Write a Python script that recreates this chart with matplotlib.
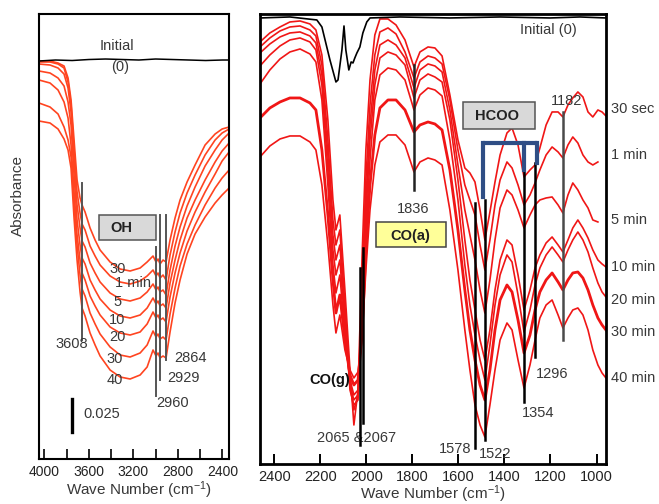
import numpy as np
import matplotlib
matplotlib.use('Agg')
import matplotlib.pyplot as plt
from matplotlib.patches import Rectangle

plt.rcParams['font.family'] = ['Liberation Sans', 'DejaVu Sans']
plt.rcParams['mathtext.fontset'] = 'custom'
plt.rcParams['mathtext.rm'] = 'Liberation Sans'
plt.rcParams['mathtext.it'] = 'Liberation Sans:italic'
plt.rcParams['mathtext.default'] = 'regular'

# ---------------- data: left panel (OH / CH region) ----------------
# signal depth below the frame top (a.u.); plotted as negative absorbance
left_wn = [4048, 3949, 3877, 3823, 3787, 3760, 3733, 3706, 3679, 3661, 3634, 3589,
           3544, 3499, 3409, 3319, 3229, 3139, 3076, 3023, 2996, 2978, 2960, 2933,
           2906, 2870, 2825, 2780, 2717, 2645, 2555, 2465, 2402, 2339]
left_times = ['30', '1 min', '5', '10', '20', '30', '40']
left_30s = [61, 61, 63, 66, 78, 100, 140, 180, 198, 205, 212, 228, 240, 250, 262, 269, 271, 268,
            262, 256, 262, 259, 264, 260, 262, 240, 218, 200, 182, 165, 145, 134, 129, 127]
left_1m = [62, 62, 64, 68, 82, 105, 150, 192, 213, 224, 230, 246, 256, 265, 276, 282, 284, 281,
           276, 270, 276, 273, 278, 275, 280, 255, 232, 213, 193, 175, 155, 140, 133, 129]
left_5m = [64, 65, 68, 74, 88, 112, 160, 205, 228, 241, 247, 263, 273, 282, 293, 299, 301, 298,
           292, 284, 290, 287, 292, 290, 295, 270, 246, 227, 206, 187, 166, 150, 140, 133]
left_10m = [71, 73, 78, 86, 102, 125, 175, 220, 245, 258, 264, 280, 290, 299, 310, 316, 318, 315,
            308, 298, 304, 301, 306, 304, 308, 283, 260, 240, 218, 200, 180, 162, 151, 143]
left_20m = [80, 83, 90, 102, 118, 145, 192, 235, 260, 273, 280, 296, 306, 315, 327, 333, 335, 332,
            324, 312, 318, 315, 320, 318, 322, 297, 273, 253, 231, 212, 192, 174, 161, 152]
left_30m = [103, 107, 114, 127, 140, 157, 205, 245, 275, 289, 296, 313, 324, 334, 347, 355, 357, 353,
            345, 331, 337, 334, 339, 337, 340, 314, 288, 266, 244, 225, 205, 188, 178, 170]
left_40m = [121, 123, 129, 139, 150, 168, 218, 260, 292, 308, 316, 333, 345, 356, 370, 377, 379, 375,
            367, 350, 356, 353, 358, 356, 358, 332, 303, 280, 254, 234, 217, 203, 195, 188]
left_curves = [left_30s, left_1m, left_5m, left_10m, left_20m, left_30m, left_40m]
left_label_wn = [3337, 3203, 3346, 3346, 3346, 3364, 3364]
left_label_depth = [269, 283, 302, 320, 337, 359, 380]

left_init_wn = [4048, 3900, 3750, 3600, 3450, 3300, 3150, 3000, 2850, 2700, 2550, 2400, 2339]
left_init = [61, 60, 60.5, 59.5, 59, 59.5, 60, 59, 59.5, 60, 60.5, 60, 60]

# peak markers (axis position, top, bottom, label, label position)
left_peaks_wn = [3664, 2999, 2960, 2902]
left_peaks_top = [183, 247, 215, 215]
left_peaks_bot = [340, 396, 380, 360]
left_peak_labels = ['3608', '2960', '2929', '2864']
left_peak_label_wn = [3751, 2843, 2753, 2690]
left_peak_label_depth = [344, 403, 378, 358]

# ---------------- data: right panel (CO / formate region) ----------------
right_wn = [2462, 2419, 2375, 2332, 2288, 2245, 2219, 2193, 2167, 2145, 2132, 2115, 2093, 2071,
            2054, 2036, 2019, 2002, 1984, 1963, 1941, 1906, 1871, 1832, 1793, 1767, 1732, 1702,
            1671, 1637, 1602, 1572, 1550, 1528, 1506, 1485, 1463, 1441, 1419, 1389, 1367, 1341,
            1315, 1289, 1267, 1246, 1219, 1193, 1167, 1146, 1124, 1103, 1081, 1059, 1037, 1016,
            994, 976, 959]
right_times = ['30 sec', '1 min', '5 min', '10 min', '20 min', '30 min', '40 min']
nan = float('nan')
right_30s = [42, 33, 27, 22, 21, 24,
             30, 55, 120, 200, 230, 215, 290, 370, 425, 390, 260, 150, 80, 35, 19,
             19, 25, 40, 67, 52, 47, 48, 56,
             95, 140, 168, 173, 182, 210, 240, 212, 182, 155,
             133, 128, 145, 177, 170, 165, 148, 125, 112, 112,
             117, 105, 98, 92, 97, 112, 117, 110, 112, 116]
right_1m = [47, 38, 31, 27, 26, 30,
            36, 65, 140, 220, 245, 230, 305, 385, 410, 395, 290, 180, 105, 55, 32,
            28, 34, 52, 78, 62, 56, 58, 64,
            100, 150, 185, 200, 215, 245, 270, 240, 205, 180,
            162, 168, 185, 205, 195, 183, 170, 155, 147, 152,
            158, 145, 137, 143, 155, 162, 165, 162, nan, nan]
right_5m = [53, 44, 37, 33, 32, 36,
            43, 75, 155, 235, 260, 245, 315, 390, 405, 400, 310, 200, 125, 70, 45,
            40, 45, 58, 88, 70, 64, 66, 72,
            110, 165, 210, 235, 260, 290, 313, 280, 240, 208,
            190, 195, 210, 228, 215, 205, 200, 198, 197, 205,
            213, 195, 183, 190, 200, 208, 220, 222, nan, nan]
right_10m = [66, 55, 46, 40, 38, 42,
             50, 85, 170, 250, 275, 260, 325, 385, 400, 395, 320, 215, 140, 85, 58,
             52, 55, 65, 98, 80, 74, 77, 82,
             120, 180, 240, 280, 310, 340, 360, 330, 290, 260,
             240, 245, 275, 310, 290, 268, 255, 243, 237, 245,
             252, 240, 228, 220, 228, 238, 250, 260, 264, 267]
right_20m = [84, 70, 59, 52, 49, 54,
             62, 100, 185, 265, 293, 275, 335, 380, 395, 390, 330, 230, 160, 100, 75,
             68, 70, 80, 110, 95, 88, 90, 96,
             140, 200, 265, 305, 335, 360, 380, 345, 305, 275,
             255, 262, 295, 332, 310, 285, 268, 255, 247, 255,
             262, 250, 240, 232, 240, 252, 268, 283, 292, 297]
right_30m = [118, 108, 102, 98, 98, 103,
             110, 150, 215, 280, 313, 295, 340, 375, 385, 380, 335, 250, 185, 135, 108,
             100, 100, 110, 132, 125, 122, 124, 130,
             170, 230, 290, 330, 360, 385, 400, 370, 330, 300,
             285, 292, 320, 353, 335, 310, 292, 280, 273, 282,
             290, 280, 273, 272, 278, 290, 305, 318, 325, 330]
right_40m = [157, 146, 139, 136, 136, 142,
             150, 185, 245, 305, 333, 315, 350, 370, 378, 372, 340, 270, 210, 165, 142,
             135, 135, 145, 172, 162, 158, 160, 165,
             210, 270, 330, 370, 405, 425, 437, 405, 370, 340,
             323, 330, 360, 388, 365, 340, 318, 305, 300, 315,
             328, 318, 310, 308, 315, 330, 350, 365, 373, 378]
right_curves = [right_30s, right_1m, right_5m, right_10m, right_20m, right_30m, right_40m]
right_widths = [1.2, 1.2, 1.2, 1.2, 1.2, 2.0, 1.2]
right_label_depth = [109, 155, 220, 267, 300, 332, 378]

right_init_wn = [2462, 2332, 2215, 2193, 2158, 2132, 2123, 2106, 2097, 2089, 2076, 2066, 2058,
                 2050, 2041, 2028, 2015, 1998, 1984, 1854, 1637, 1419, 1202, 1072, 959]
right_init = [18, 17, 20, 27, 60, 82, 80, 50, 26, 50, 70, 62, 63, 58, 53, 47, 33, 22, 18,
              17, 18, 17, 18, 17, 18]

right_peaks_wn = [1792, 1529, 1483, 1314, 1266, 1147, 2029, 2015]
right_peaks_top = [65, 203, 200, 170, 163, 112, 268, 248]
right_peaks_bot = [190, 448, 440, 402, 357, 340, 445, 423]
right_peak_colors = ['#222222', 'black', 'black', 'black', 'black', '#4a4a4a', 'black', 'black']
right_peak_labels = ['1836', '1578', '1522', '1354', '1296', '1182', '2065 &2067']
right_peak_label_wn = [1797, 1615, 1441, 1254, 1194, 1128, 2041]
right_peak_label_depth = [209, 449, 454, 413, 374, 101, 438]

# formate bracket: legs at 1522, 1354, 1296 (axis positions)
bracket_wn = [1492, 1315, 1259]
bracket_top = 143
bracket_leg_bot = [197, 170, 163]

# ---------------- styling ----------------
LEFT_RED = '#ff4420'
RIGHT_RED = '#f01616'
TXT = '#383838'

fig = plt.figure(figsize=(6.59, 5.04), dpi=100)
axL = fig.add_axes([0.0592, 0.0893, 0.2888, 0.8829])
axR = fig.add_axes([0.3945, 0.0794, 0.5250, 0.8929])

# ---- left panel ----
axL.plot(left_init_wn, -np.array(left_init), color='black', lw=1.1, zorder=3)
for vals in left_curves:
    axL.plot(left_wn, -np.array(vals), color=LEFT_RED, lw=1.2, zorder=2)
for wn, t, b in zip(left_peaks_wn, left_peaks_top, left_peaks_bot):
    axL.plot([wn, wn], [-t, -b], color='#555555', lw=1.4, zorder=4)
for lab, wn, d in zip(left_peak_labels, left_peak_label_wn, left_peak_label_depth):
    axL.text(wn, -d, lab, ha='center', va='center', fontsize=10.5, color=TXT, zorder=5)
for lab, wn, d in zip(left_times, left_label_wn, left_label_depth):
    axL.text(wn, -d, lab, ha='center', va='center', fontsize=10.5, color=TXT, zorder=5)

axL.text(3346, -46, 'Initial', ha='center', va='center', fontsize=10.5, color=TXT)
axL.text(3320, -67, '(0)', ha='center', va='center', fontsize=10.5, color=TXT)
axL.add_patch(Rectangle((3508, -240), 2996 - 3508, 25, facecolor='#d9d9d9',
                        edgecolor='#555555', lw=1.1, zorder=4))
axL.text(3310, -228, 'OH', ha='center', va='center', fontsize=10.5, fontweight='bold',
         color='#222222', zorder=5)
# scale bar 0.025
axL.plot([3748, 3748], [-399, -432], color='black', lw=2.4)
axL.text(3652, -414, '0.025', ha='left', va='center', fontsize=10.5, color=TXT)

axL.set_xlim(4048, 2337)
axL.set_ylim(-459, -14)
axL.set_xticks([4000, 3600, 3200, 2800, 2400])
axL.set_xticks([3800, 3400, 3000, 2600], minor=True)
axL.tick_params(axis='x', which='both', direction='in', length=7, width=1.2,
                pad=4.5, labelsize=10, labelcolor='#222222')
axL.set_yticks([])
for s in axL.spines.values():
    s.set_linewidth(1.5)
    s.set_color('black')

# ---- right panel ----
axR.plot(right_init_wn, -np.array(right_init), color='black', lw=1.2, zorder=3)
for vals, lw in zip(right_curves, right_widths):
    axR.plot(right_wn, -np.array(vals), color=RIGHT_RED, lw=lw, zorder=2)
for wn, t, b, c in zip(right_peaks_wn, right_peaks_top, right_peaks_bot, right_peak_colors):
    axR.plot([wn, wn], [-t, -b], color=c, lw=1.8, zorder=4)
for lab, wn, d in zip(right_peak_labels, right_peak_label_wn, right_peak_label_depth):
    axR.text(wn, -d, lab, ha='center', va='center', fontsize=10.5, color=TXT, zorder=3)
# formate bracket
axR.plot([bracket_wn[0], bracket_wn[-1]], [-bracket_top, -bracket_top], color='#2f4e85',
         lw=3, solid_capstyle='butt', zorder=5)
for wn, b in zip(bracket_wn, bracket_leg_bot):
    axR.plot([wn, wn], [-bracket_top, -b], color='#2f4e85', lw=3, zorder=5)

axR.add_patch(Rectangle((1580, -129), 1267 - 1580, 27, facecolor='#d9d9d9',
                        edgecolor='#555555', lw=1.1, zorder=4))
axR.text(1433, -116, 'HCOO', ha='center', va='center', fontsize=10.5, fontweight='bold',
         color='#222222', zorder=5)
axR.add_patch(Rectangle((1958, -247), 1654 - 1958, 25, facecolor='#ffff99',
                        edgecolor='#444444', lw=1.1, zorder=4))
axR.text(1811, -236, 'CO(a)', ha='center', va='center', fontsize=10.5, fontweight='bold',
         color='#222222', zorder=5)
axR.text(2158, -380, 'CO(g)', ha='center', va='center', fontsize=10.5, fontweight='bold',
         color='#111111', zorder=5)
axR.text(1211, -30, 'Initial (0)', ha='center', va='center', fontsize=10.5, color=TXT)
for lab, d in zip(right_times, right_label_depth):
    axR.text(937, -d, lab, ha='left', va='center', fontsize=10.5, color=TXT, clip_on=False)

axR.set_xlim(2462, 959)
axR.set_ylim(-464, -14)
axR.set_xticks([2400, 2200, 2000, 1800, 1600, 1400, 1200, 1000])
axR.tick_params(axis='x', which='both', direction='in', length=7, width=1.4,
                pad=4.5, labelsize=10.5, labelcolor='#222222')
axR.set_yticks([])
for s in axR.spines.values():
    s.set_linewidth(2.0)
    s.set_color('black')

fig.text(139 / 659, 1 - 490 / 504, 'Wave Number (cm$^{-1}$)', ha='center', va='center',
         fontsize=11, color=TXT)
fig.text(433 / 659, 1 - 494 / 504, 'Wave Number (cm$^{-1}$)', ha='center', va='center',
         fontsize=11, color=TXT)
fig.text(18 / 659, 1 - 196 / 504, 'Absorbance', ha='center', va='center', rotation=90,
         fontsize=11, color=TXT)

fig.savefig('out.png', dpi=100)
